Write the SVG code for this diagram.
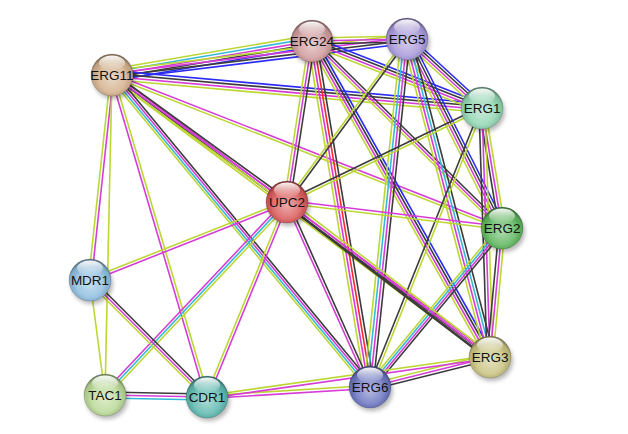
<svg xmlns="http://www.w3.org/2000/svg" width="628" height="434" viewBox="0 0 628 434">
<defs>
<style>
line{stroke-width:1.6;fill:none}
.t{stroke:#bcd734}.e{stroke:#d63cd6}.d{stroke:#35b9d6}.c{stroke:#3c3c3c}.o{stroke:#2b2bf5}.f{stroke:#f52b2b}
.lbl{font-family:"Liberation Sans",Arial,sans-serif;font-size:13.5px;fill:#111;text-anchor:middle}
</style>
<radialGradient id="shade" cx="50%" cy="58%" r="55%">
<stop offset="0" stop-color="#fff" stop-opacity="0.5"/>
<stop offset="0.6" stop-color="#fff" stop-opacity="0.15"/>
<stop offset="0.88" stop-color="#000" stop-opacity="0.08"/>
<stop offset="1" stop-color="#000" stop-opacity="0.38"/>
</radialGradient>
<linearGradient id="hl" x1="0" y1="0" x2="0" y2="1">
<stop offset="0" stop-color="#fff" stop-opacity="0.95"/>
<stop offset="1" stop-color="#fff" stop-opacity="0"/>
</linearGradient>
<filter id="blur" x="-50%" y="-50%" width="200%" height="200%"><feGaussianBlur stdDeviation="2"/></filter>
<g id="sph">
<ellipse cx="2" cy="4" rx="21" ry="20" fill="#000" opacity="0.28" filter="url(#blur)"/>
</g>
<g id="gloss">
<ellipse cx="0" cy="0" rx="21" ry="21" fill="url(#shade)"/>
<ellipse cx="0" cy="0" rx="21" ry="21" fill="none" stroke="#000" stroke-opacity="0.15" stroke-width="1"/>
<ellipse cx="0" cy="-12" rx="13" ry="7.5" fill="url(#hl)"/>
</g>
</defs>
<rect width="628" height="434" fill="#fff"/>
<g id="edges">
<!-- ERG11-ERG24 -->
<line class="t" x1="112" y1="69" x2="312" y2="35"/><line class="d" x1="112" y1="72" x2="312" y2="38"/><line class="e" x1="112" y1="75" x2="312" y2="41"/><line class="c" x1="112" y1="78" x2="312" y2="44"/><line class="o" x1="112" y1="81" x2="312" y2="47"/>
<!-- ERG11-ERG5 -->
<line class="t" x1="112" y1="70.5" x2="407" y2="34.5"/><line class="e" x1="112" y1="73.5" x2="407" y2="37.5"/><line class="c" x1="112" y1="76.5" x2="407" y2="40.5"/><line class="o" x1="112" y1="79.5" x2="407" y2="43.5"/>
<!-- ERG11-ERG1 -->
<line class="o" x1="112" y1="70.5" x2="482" y2="103.5"/><line class="c" x1="112" y1="73.5" x2="482" y2="106.5"/><line class="e" x1="112" y1="76.5" x2="482" y2="109.5"/><line class="t" x1="112" y1="79.5" x2="482" y2="112.5"/>
<!-- ERG11-ERG2 -->
<line class="e" x1="112" y1="73.5" x2="502" y2="226.5"/><line class="t" x1="112" y1="76.5" x2="502" y2="229.5"/>
<!-- ERG11-ERG3 -->
<line class="e" x1="112" y1="72" x2="490" y2="354"/><line class="c" x1="112" y1="75" x2="490" y2="357"/><line class="t" x1="112" y1="78" x2="490" y2="360"/>
<!-- ERG11-UPC2 -->
<line class="c" x1="112" y1="72" x2="287" y2="199"/><line class="e" x1="112" y1="75" x2="287" y2="202"/><line class="t" x1="112" y1="78" x2="287" y2="205"/>
<!-- ERG11-ERG6 -->
<line class="t" x1="107.5" y1="75" x2="365.5" y2="387"/><line class="d" x1="110.5" y1="75" x2="368.5" y2="387"/><line class="e" x1="113.5" y1="75" x2="371.5" y2="387"/><line class="c" x1="116.5" y1="75" x2="374.5" y2="387"/>
<!-- ERG11-MDR1 -->
<line class="t" x1="110.5" y1="75" x2="88.5" y2="280"/><line class="e" x1="113.5" y1="75" x2="91.5" y2="280"/>
<!-- ERG11-TAC1 -->
<line class="t" x1="112" y1="75" x2="105" y2="395"/>
<!-- ERG11-CDR1 -->
<line class="e" x1="110.5" y1="75" x2="205.5" y2="397"/><line class="t" x1="113.5" y1="75" x2="208.5" y2="397"/>
<!-- ERG24-ERG5 -->
<line class="t" x1="312" y1="38" x2="407" y2="36"/><line class="e" x1="312" y1="41" x2="407" y2="39"/><line class="c" x1="312" y1="44" x2="407" y2="42"/>
<!-- ERG24-ERG1 -->
<line class="o" x1="312" y1="36.5" x2="482" y2="103.5"/><line class="c" x1="312" y1="39.5" x2="482" y2="106.5"/><line class="e" x1="312" y1="42.5" x2="482" y2="109.5"/><line class="t" x1="312" y1="45.5" x2="482" y2="112.5"/>
<!-- ERG24-ERG2 -->
<line class="c" x1="312" y1="37.5" x2="502" y2="224.5"/><line class="e" x1="312" y1="41" x2="502" y2="228"/><line class="t" x1="312" y1="44.5" x2="502" y2="231.5"/>
<!-- ERG24-ERG3 -->
<line class="t" x1="307.5" y1="41" x2="485.5" y2="357"/><line class="e" x1="310.5" y1="41" x2="488.5" y2="357"/><line class="c" x1="313.5" y1="41" x2="491.5" y2="357"/><line class="o" x1="316.5" y1="41" x2="494.5" y2="357"/>
<!-- ERG24-ERG6 -->
<line class="t" x1="307.5" y1="41" x2="365.5" y2="387"/><line class="e" x1="310.5" y1="41" x2="368.5" y2="387"/><line class="f" x1="313.5" y1="41" x2="371.5" y2="387"/><line class="c" x1="316.5" y1="41" x2="374.5" y2="387"/>
<!-- ERG24-UPC2 -->
<line class="t" x1="309" y1="41" x2="284" y2="202"/><line class="e" x1="312" y1="41" x2="287" y2="202"/><line class="c" x1="315" y1="41" x2="290" y2="202"/>
<!-- ERG5-ERG1 -->
<line class="o" x1="407" y1="33.75" x2="482" y2="102.75"/><line class="c" x1="407" y1="37.25" x2="482" y2="106.25"/><line class="e" x1="407" y1="40.75" x2="482" y2="109.75"/><line class="t" x1="407" y1="44.25" x2="482" y2="113.25"/>
<!-- ERG5-ERG2 -->
<line class="t" x1="402.5" y1="39" x2="497.5" y2="228"/><line class="e" x1="405.5" y1="39" x2="500.5" y2="228"/><line class="c" x1="408.5" y1="39" x2="503.5" y2="228"/><line class="o" x1="411.5" y1="39" x2="506.5" y2="228"/>
<!-- ERG5-ERG3 -->
<line class="t" x1="402.5" y1="39" x2="485.5" y2="357"/><line class="e" x1="405.5" y1="39" x2="488.5" y2="357"/><line class="d" x1="408.5" y1="39" x2="491.5" y2="357"/><line class="c" x1="411.5" y1="39" x2="494.5" y2="357"/>
<!-- ERG5-ERG6 -->
<line class="t" x1="401" y1="39" x2="364" y2="387"/><line class="d" x1="404" y1="39" x2="367" y2="387"/><line class="e" x1="407" y1="39" x2="370" y2="387"/><line class="c" x1="410" y1="39" x2="373" y2="387"/>
<!-- ERG5-UPC2 -->
<line class="t" x1="405.5" y1="39" x2="285.5" y2="202"/><line class="c" x1="408.5" y1="39" x2="288.5" y2="202"/>
<!-- ERG1-ERG2 -->
<line class="c" x1="479" y1="108" x2="499" y2="228"/><line class="e" x1="482" y1="108" x2="502" y2="228"/><line class="t" x1="485" y1="108" x2="505" y2="228"/>
<!-- ERG1-ERG3 -->
<line class="c" x1="479" y1="108" x2="487" y2="357"/><line class="e" x1="482" y1="108" x2="490" y2="357"/><line class="t" x1="485" y1="108" x2="493" y2="357"/>
<!-- ERG1-ERG6 -->
<line class="c" x1="480.5" y1="108" x2="368.5" y2="387"/><line class="t" x1="483.5" y1="108" x2="371.5" y2="387"/>
<!-- ERG1-UPC2 -->
<line class="c" x1="482" y1="106.5" x2="287" y2="200.5"/><line class="t" x1="482" y1="109.5" x2="287" y2="203.5"/>
<!-- ERG2-ERG3 -->
<line class="c" x1="499" y1="228" x2="487" y2="357"/><line class="e" x1="502" y1="228" x2="490" y2="357"/><line class="t" x1="505" y1="228" x2="493" y2="357"/>
<!-- ERG2-ERG6 -->
<line class="t" x1="497.5" y1="228" x2="365.5" y2="387"/><line class="d" x1="500.5" y1="228" x2="368.5" y2="387"/><line class="e" x1="503.5" y1="228" x2="371.5" y2="387"/><line class="c" x1="506.5" y1="228" x2="374.5" y2="387"/>
<!-- ERG2-UPC2 -->
<line class="e" x1="502" y1="226.5" x2="287" y2="200.5"/><line class="t" x1="502" y1="229.5" x2="287" y2="203.5"/>
<!-- ERG3-ERG6 -->
<line class="t" x1="490" y1="354" x2="370" y2="384"/><line class="e" x1="490" y1="357" x2="370" y2="387"/><line class="c" x1="490" y1="360" x2="370" y2="390"/>
<!-- ERG3-UPC2 -->
<line class="t" x1="490" y1="353.5" x2="287" y2="198.5"/><line class="e" x1="490" y1="357" x2="287" y2="202"/><line class="c" x1="490" y1="360.5" x2="287" y2="205.5" style="stroke-width:2.6"/>
<!-- ERG6-UPC2 -->
<line class="e" x1="368.5" y1="387" x2="285.5" y2="202"/><line class="c" x1="371.5" y1="387" x2="288.5" y2="202"/>
<!-- ERG6-CDR1 -->
<line class="t" x1="370" y1="385.5" x2="207" y2="395.5"/><line class="e" x1="370" y1="388.5" x2="207" y2="398.5"/>
<!-- ERG3-CDR1 -->
<line class="t" x1="490" y1="355.5" x2="207" y2="395.5"/><line class="e" x1="490" y1="358.5" x2="207" y2="398.5"/>
<!-- UPC2-MDR1 -->
<line class="t" x1="287" y1="200.5" x2="90" y2="278.5"/><line class="e" x1="287" y1="203.5" x2="90" y2="281.5"/>
<!-- UPC2-TAC1 -->
<line class="e" x1="283.5" y1="202" x2="101.5" y2="395"/><line class="d" x1="287" y1="202" x2="105" y2="395"/><line class="t" x1="290.5" y1="202" x2="108.5" y2="395"/>
<!-- UPC2-CDR1 -->
<line class="t" x1="285.5" y1="202" x2="205.5" y2="397"/><line class="e" x1="288.5" y1="202" x2="208.5" y2="397"/>
<!-- MDR1-TAC1 -->
<line class="t" x1="90" y1="280" x2="105" y2="395"/>
<!-- MDR1-CDR1 -->
<line class="c" x1="93.5" y1="280" x2="210.5" y2="397"/><line class="e" x1="90" y1="280" x2="207" y2="397"/><line class="t" x1="86.5" y1="280" x2="203.5" y2="397"/>
<!-- TAC1-CDR1 -->
<line class="c" x1="105" y1="392" x2="207" y2="394"/><line class="e" x1="105" y1="395" x2="207" y2="397"/><line class="d" x1="105" y1="398" x2="207" y2="400"/>
</g>
<g id="ERG11" transform="translate(112,75)"><use href="#sph"/><ellipse rx="21" ry="21" fill="#d4b08c"/><use href="#gloss"/><text class="lbl" y="5">ERG11</text></g>
<g id="ERG24" transform="translate(312,41)"><use href="#sph"/><ellipse rx="21" ry="21" fill="#d09a9b"/><use href="#gloss"/><text class="lbl" y="5">ERG24</text></g>
<g id="ERG5" transform="translate(407,39)"><use href="#sph"/><ellipse rx="21" ry="21" fill="#a797d9"/><use href="#gloss"/><text class="lbl" y="5">ERG5</text></g>
<g id="ERG1" transform="translate(482,108)"><use href="#sph"/><ellipse rx="21" ry="21" fill="#8fd5b0"/><use href="#gloss"/><text class="lbl" y="5">ERG1</text></g>
<g id="UPC2" transform="translate(287,202)"><use href="#sph"/><ellipse rx="21" ry="21" fill="#d95858"/><use href="#gloss"/><text class="lbl" y="5">UPC2</text></g>
<g id="ERG2" transform="translate(502,228)"><use href="#sph"/><ellipse rx="21" ry="21" fill="#5cb55c"/><use href="#gloss"/><text class="lbl" y="5">ERG2</text></g>
<g id="MDR1" transform="translate(90,280)"><use href="#sph"/><ellipse rx="21" ry="21" fill="#8ebedf"/><use href="#gloss"/><text class="lbl" y="5">MDR1</text></g>
<g id="ERG3" transform="translate(490,357)"><use href="#sph"/><ellipse rx="21" ry="21" fill="#c9c280"/><use href="#gloss"/><text class="lbl" y="5">ERG3</text></g>
<g id="ERG6" transform="translate(370,387)"><use href="#sph"/><ellipse rx="21" ry="21" fill="#6a74c0"/><use href="#gloss"/><text class="lbl" y="5">ERG6</text></g>
<g id="TAC1" transform="translate(105,395)"><use href="#sph"/><ellipse rx="21" ry="21" fill="#b9d996"/><use href="#gloss"/><text class="lbl" y="5">TAC1</text></g>
<g id="CDR1" transform="translate(207,397)"><use href="#sph"/><ellipse rx="21" ry="21" fill="#5bb7ae"/><use href="#gloss"/><text class="lbl" y="5">CDR1</text></g>
</svg>
